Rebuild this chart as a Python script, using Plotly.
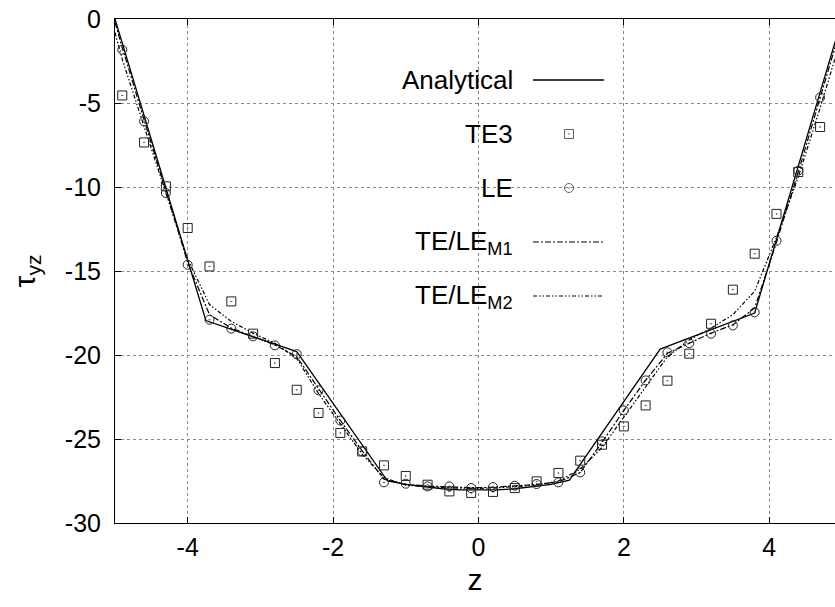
import plotly.graph_objects as go

# ---------------- data ----------------
z_an = [-5.0, -3.75, -2.5, -1.25, -1.0, -0.75, -0.5, -0.25, 0.0, 0.25, 0.5, 0.75, 1.0, 1.25, 2.5, 3.8, 5.0]
t_an = [0.0, -17.95, -19.8, -27.5, -27.7, -27.85, -27.96, -28.03, -28.05, -28.03, -27.96, -27.85, -27.7, -27.45, -19.65, -17.5, 0.0]

z_pts = [-4.9, -4.6, -4.3, -4.0, -3.7, -3.4, -3.1, -2.8, -2.5, -2.2, -1.9, -1.6, -1.3, -1.0, -0.7, -0.4, -0.1,
         0.2, 0.5, 0.8, 1.1, 1.4, 1.7, 2.0, 2.3, 2.6, 2.9, 3.2, 3.5, 3.8, 4.1, 4.4, 4.7]
t_te3 = [-4.55, -7.35, -9.96, -12.44, -14.73, -16.81, -18.73, -20.48, -22.07, -23.45, -24.64, -25.74, -26.57,
         -27.2, -27.72, -28.12, -28.21, -28.15, -27.92, -27.52, -27.02, -26.29, -25.34, -24.25, -23.0, -21.53,
         -19.92, -18.14, -16.11, -13.97, -11.6, -9.11, -6.43]
t_le = [-1.83, -6.09, -10.36, -14.63, -17.9, -18.43, -18.89, -19.43, -19.95, -22.1, -23.9, -25.74, -27.58,
        -27.66, -27.82, -27.82, -27.92, -27.86, -27.78, -27.68, -27.58, -26.99, -25.14, -23.3, -21.51, -19.84,
        -19.29, -18.73, -18.24, -17.46, -13.2, -9.03, -4.67]

z_m = [-5.0, -4.9, -4.6, -4.3, -4.0, -3.7, -3.4, -3.1, -2.8, -2.5, -2.2, -1.9, -1.6, -1.3, -1.0, -0.7, -0.4, -0.1,
       0.2, 0.5, 0.8, 1.1, 1.4, 1.7, 2.0, 2.3, 2.6, 2.9, 3.2, 3.5, 3.8, 4.1, 4.4, 4.7, 5.0]
t_m1 = [-0.2, -1.7, -6.0, -10.3, -14.5, -17.6, -18.4, -18.9, -19.4, -20.1, -22.0, -23.9, -25.7, -27.4, -27.7,
        -27.8, -27.85, -27.9, -27.88, -27.8, -27.7, -27.55, -27.0, -25.2, -23.3, -21.5, -19.9, -19.3, -18.7,
        -18.2, -17.2, -13.3, -9.1, -4.7, -0.3]
t_m2 = [-0.8, -2.4, -6.4, -10.4, -14.3, -17.0, -18.0, -18.7, -19.3, -20.2, -22.3, -24.1, -25.9, -27.3, -27.75,
        -27.85, -27.9, -27.95, -27.92, -27.85, -27.75, -27.5, -26.8, -25.5, -23.7, -21.9, -20.1, -19.1, -18.4,
        -17.6, -16.2, -13.0, -9.4, -5.3, -1.0]

x_ticks = [-4, -2, 0, 2, 4]
x_ticktext = ["-4", "-2", "0", "2", "4"]
y_ticks = [0, -5, -10, -15, -20, -25, -30]
y_ticktext = ["0", "-5", "-10", "-15", "-20", "-25", "-30"]
legend_names = ["Analytical", "TE3", "LE", "TE/LE<sub>M1</sub>", "TE/LE<sub>M2</sub>"]

# ---------------- figure ----------------
W, H = 835, 607
ML, MR, MT, MB = 115, 0, 19, 84
PW, PH = W - ML - MR, H - MT - MB
FONT = "Liberation Sans, Arial, sans-serif"
FS = 25
FS_KEY = 26
DASH_M1 = "6px,2px,2px,2px"
DASH_M2 = "4px,2px,1.5px,2px,1.5px,2px"

fig = go.Figure()
fig.add_trace(go.Scatter(x=z_an, y=t_an, mode="lines", line=dict(color="black", width=1.3), name=legend_names[0]))
fig.add_trace(go.Scatter(x=z_m, y=t_m1, mode="lines", line=dict(color="black", width=1.2, dash=DASH_M1), name="M1"))
fig.add_trace(go.Scatter(x=z_m, y=t_m2, mode="lines", line=dict(color="black", width=1.2, dash=DASH_M2), name="M2"))
fig.add_trace(go.Scatter(x=z_pts, y=t_te3, mode="markers",
                         marker=dict(symbol="square-open-dot", size=9, color="#222", line=dict(width=1)), name="TE3"))
fig.add_trace(go.Scatter(x=z_pts, y=t_le, mode="markers",
                         marker=dict(symbol="circle-open-dot", size=9, color="#222", line=dict(width=1)), name="LE"))


def px2paper(px, py):
    return (px - ML) / PW, (H - MB - py) / PH


shapes = []
# opaque key box (hides grid)
x0, y0 = px2paper(383, 325)
x1, y1 = px2paper(610, 52)
shapes.append(dict(type="rect", xref="paper", yref="paper", x0=x0, y0=y0, x1=x1, y1=y1,
                   fillcolor="white", line=dict(width=0), layer="between"))
rows = [80, 134, 188, 242, 296]
annotations = []
for name, py in zip(legend_names, rows):
    ax, ay = px2paper(515, py)
    annotations.append(dict(text=name, xref="paper", yref="paper", x=ax, y=ay, xanchor="right",
                            yanchor="middle", showarrow=False, font=dict(family=FONT, size=FS_KEY, color="black")))
# line samples
for py, dash, wdt in [(rows[0], "solid", 1.3), (rows[3], DASH_M1, 1.2), (rows[4], DASH_M2, 1.2)]:
    lx0, ly = px2paper(533, py)
    lx1, _ = px2paper(604, py)
    shapes.append(dict(type="line", xref="paper", yref="paper", x0=lx0, x1=lx1, y0=ly, y1=ly,
                       line=dict(color="black", width=wdt, dash=dash)))
# marker samples
mx, _ = px2paper(569, 0)
fig.add_trace(go.Scatter(x=[mx, mx], y=[px2paper(0, rows[1])[1], px2paper(0, rows[2])[1]],
                         xaxis="x2", yaxis="y2", mode="markers",
                         marker=dict(symbol=["square-open-dot", "circle-open-dot"], size=[9, 9], color="#222",
                                     line=dict(width=1)), showlegend=False, hoverinfo="skip"))

fig.update_layout(
    width=W, height=H, margin=dict(l=ML, r=MR, t=MT, b=MB),
    paper_bgcolor="white", plot_bgcolor="white", showlegend=False,
    font=dict(family=FONT, size=FS, color="black"),
    shapes=shapes, annotations=annotations,
    xaxis=dict(range=[-5, 4.905], tickvals=x_ticks, ticktext=x_ticktext, ticks="inside", ticklen=6,
               tickcolor="black", showline=True, linecolor="black", linewidth=1, mirror="ticks",
               showgrid=True, gridcolor="#888", griddash="dot", gridwidth=1, zeroline=False,
               ticklabelstandoff=2,
               title=dict(text="z", standoff=8), tickfont=dict(size=FS)),
    yaxis=dict(range=[-30, 0], tickvals=y_ticks, ticktext=y_ticktext, ticks="inside", ticklen=6,
               tickcolor="black", showline=True, linecolor="black", linewidth=1,
               showgrid=True, gridcolor="#888", griddash="dot", gridwidth=1, zeroline=False,
               ticklabelstandoff=8,
               title=dict(text="τ<sub>yz</sub>", standoff=20), tickfont=dict(size=FS)),
    xaxis2=dict(range=[0, 1], overlaying="x", visible=False),
    yaxis2=dict(range=[0, 1], overlaying="y", visible=False),
)

fig.write_html("out.html")
